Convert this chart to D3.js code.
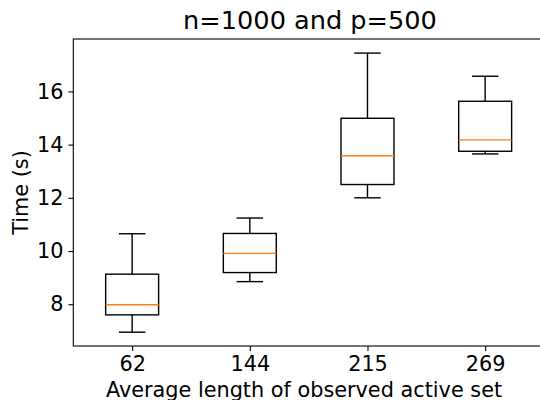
<!DOCTYPE html>
<html>
<head>
<meta charset="utf-8">
<script src="https://cdn.jsdelivr.net/npm/d3@7"></script>
<style>
  body { margin: 0; background: #fff; }
  svg { display: block; font-family: "DejaVu Sans", sans-serif; }
</style>
</head>
<body>
<div id="chart"></div>
<script>
// box stats
const categories = ["62", "144", "215", "269"];
const whiskerLow = [6.95, 8.85, 12.0, 13.65];
const q1 = [7.60, 9.19, 12.50, 13.75];
const median = [7.98, 9.91, 13.58, 14.18];
const q3 = [9.13, 10.66, 14.99, 15.63];
const whiskerHigh = [10.65, 11.24, 17.44, 16.57];
const yTicks = [8, 10, 12, 14, 16];

const W = 540, H = 400;
const margin = { top: 39, left: 73.3 };
const plotW = 470.7, plotH = 307;

const svg = d3.select("#chart").append("svg")
  .attr("width", W).attr("height", H);

const g = svg.append("g")
  .attr("transform", `translate(${margin.left},${margin.top})`);

const x = d3.scaleLinear().domain([0.5, 4.5]).range([0, plotW]);
const y = d3.scaleLinear().domain([6.43, 17.97]).range([plotH, 0]);

const boxW = x(1.45) - x(1);   // full box width 0.45
const capW = x(1.225) - x(1);  // cap width 0.225

const data = categories.map((c, i) => ({
  pos: i + 1, lo: whiskerLow[i], q1: q1[i], med: median[i], q3: q3[i], hi: whiskerHigh[i]
}));

const boxes = g.selectAll(".box").data(data).enter().append("g").attr("class", "box");
const lw = 1.4;

boxes.append("line")
  .attr("x1", d => x(d.pos)).attr("x2", d => x(d.pos))
  .attr("y1", d => y(d.q3)).attr("y2", d => y(d.hi))
  .attr("stroke", "#000").attr("stroke-width", lw);
boxes.append("line")
  .attr("x1", d => x(d.pos)).attr("x2", d => x(d.pos))
  .attr("y1", d => y(d.q1)).attr("y2", d => y(d.lo))
  .attr("stroke", "#000").attr("stroke-width", lw);
boxes.append("line")
  .attr("x1", d => x(d.pos) - capW / 2).attr("x2", d => x(d.pos) + capW / 2)
  .attr("y1", d => y(d.hi)).attr("y2", d => y(d.hi))
  .attr("stroke", "#000").attr("stroke-width", lw);
boxes.append("line")
  .attr("x1", d => x(d.pos) - capW / 2).attr("x2", d => x(d.pos) + capW / 2)
  .attr("y1", d => y(d.lo)).attr("y2", d => y(d.lo))
  .attr("stroke", "#000").attr("stroke-width", lw);
boxes.append("rect")
  .attr("x", d => x(d.pos) - boxW / 2)
  .attr("y", d => y(d.q3))
  .attr("width", boxW)
  .attr("height", d => y(d.q1) - y(d.q3))
  .attr("fill", "none").attr("stroke", "#000").attr("stroke-width", lw);
boxes.append("line")
  .attr("x1", d => x(d.pos) - boxW / 2).attr("x2", d => x(d.pos) + boxW / 2)
  .attr("y1", d => y(d.med)).attr("y2", d => y(d.med))
  .attr("stroke", "#ff7f0e").attr("stroke-width", lw);

// axes
const xAxis = g.append("g")
  .attr("transform", `translate(0,${plotH})`)
  .call(d3.axisBottom(x).tickValues([1, 2, 3, 4])
    .tickFormat((d, i) => categories[i]).tickSize(4.9).tickPadding(4.9));
const yAxis = g.append("g")
  .call(d3.axisLeft(y).tickValues(yTicks).tickSize(4.9).tickPadding(4.9));

[xAxis, yAxis].forEach(a => {
  a.select(".domain").remove();
  a.selectAll(".tick line").attr("stroke", "#000").attr("stroke-width", 1.1);
  a.selectAll(".tick text").attr("fill", "#000")
    .style("font-size", "20.8px").style("font-family", "DejaVu Sans");
});
xAxis.selectAll(".tick text").attr("dy", null).attr("y", 10).attr("dominant-baseline", "hanging");

// spines
g.append("rect")
  .attr("x", 0).attr("y", 0).attr("width", plotW).attr("height", plotH)
  .attr("fill", "none").attr("stroke", "#000").attr("stroke-width", 1.1);

// labels
svg.append("text")
  .attr("x", 310).attr("y", 29)
  .attr("text-anchor", "middle")
  .style("font-size", "25.6px")
  .text("n=1000 and p=500");

svg.append("text")
  .attr("x", 304).attr("y", 397)
  .attr("text-anchor", "middle")
  .style("font-size", "20.8px")
  .text("Average length of observed active set");

svg.append("text")
  .attr("transform", `translate(28,${margin.top + plotH / 2}) rotate(-90)`)
  .attr("text-anchor", "middle")
  .style("font-size", "20.8px")
  .text("Time (s)");
</script>
</body>
</html>
